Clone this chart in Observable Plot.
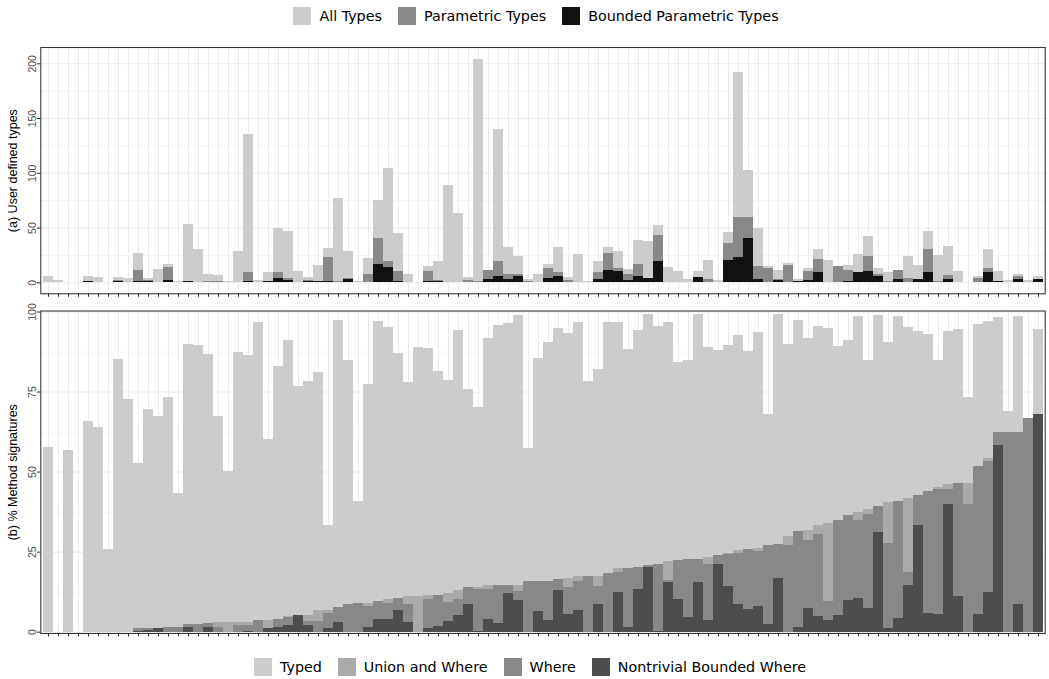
<!DOCTYPE html>
<html><head><meta charset="utf-8">
<script src="https://cdn.jsdelivr.net/npm/d3@7"></script>
<script src="https://cdn.jsdelivr.net/npm/@observablehq/plot@0.6"></script>
<style>
body{margin:0;background:#fff;}
#wrap{position:relative;width:1049px;height:679px;overflow:hidden;background:#fff;}
.legend{position:absolute;display:flex;justify-content:center;align-items:center;font-family:"DejaVu Sans",sans-serif;font-size:14.3px;color:#000;height:32px;}
.item{display:flex;align-items:center;margin:0 8px;}
.key{width:18px;height:18px;margin-right:8px;}
#pa{position:absolute;left:0;top:40px;}
#pb{position:absolute;left:0;top:300px;}
</style></head>
<body><div id="wrap">
<div id="legTop" class="legend" style="left:0;width:1072px;top:0;"></div>
<div id="pa"></div><div id="pb"></div>
<div id="legBot" class="legend" style="left:0;width:1060px;top:651px;"></div>
</div>
<script>
// ---- categories (100 packages, unlabeled on the x axis) ----
const packages = d3.range(1, 101);

// ---- panel (a): user defined types ----
const allTypes   = [6,2,0,0,6,5,0,5,4,27, 4,12,17,1,53,30,8,7,1,29, 135,2,9,50,47,10,5,16,31,77, 29,1,22,75,104,45,8,0,15,19, 89,63,5,204,11,140,32,24,3,8, 17,32,5,26,1,19,32,29,12,39, 38,52,14,10,3,10,20,2,46,192, 103,50,15,11,18,3,13,30,20,15, 16,26,42,13,9,11,24,16,47,25, 33,10,0,6,30,10,2,8,2,6];
const parametric = [0,0,0,0,1,0,0,2,0,11, 2,0,14,0,1,0,1,1,0,0, 9,0,1,9,4,0,2,1,23,1, 4,0,8,40,19,10,0,0,10,2, 0,0,2,1,11,19,8,8,1,0, 13,9,2,0,0,9,27,13,8,17, 4,43,0,0,0,5,3,0,36,60, 60,15,13,3,16,1,10,21,0,15, 11,9,24,8,1,11,4,3,30,1, 7,0,0,4,13,1,0,6,0,3];
const bounded    = [0,0,0,0,1,0,0,1,0,1, 1,0,2,0,1,0,0,0,0,0, 1,0,1,4,2,0,1,1,1,0, 3,0,0,17,14,1,0,0,1,1, 0,0,0,0,3,6,3,6,0,0, 4,6,0,0,0,3,11,10,2,6, 4,19,0,0,0,5,0,0,20,23, 40,3,0,2,0,1,2,9,0,0, 1,9,10,6,0,3,0,3,9,0, 3,0,0,0,9,1,0,3,0,3];
const ticksA = [0, 50, 100, 150, 200];
const minorA = [25, 75, 125, 175];

// ---- panel (b): % method signatures ----
const typed      = [57.7,0,56.7,0,65.8,63.9,25.8,85.2,72.7,52.7, 69.5,67.4,73.3,43.3,89.8,89.5,86.7,67.4,50.2,87.3, 86.4,96.7,60.2,83.0,91.1,76.7,78.3,81.1,33.3,97.3, 84.9,40.8,77.4,97.0,95.2,87.0,78.0,88.9,88.6,81.4, 78.6,94.2,75.8,70.2,91.7,95.8,96.4,98.9,57.4,85.5, 90.5,94.8,93.3,96.7,78.3,82.0,96.7,96.7,88.3,94.2, 99.2,95.5,96.7,84.2,84.9,99.2,88.9,88.0,89.5,92.7, 87.7,93.6,68.0,99.2,89.8,97.3,91.7,95.5,94.8,89.2, 91.1,98.6,84.9,98.9,90.5,98.6,95.2,93.9,93.0,84.9, 93.9,94.5,73.3,96.1,97.0,98.3,68.9,98.6,66.7,94.5];
const unionWhere = [0,0,0,0,0,0,0,0,0,1.0, 1.0,1.2,1.5,1.5,2.5,2.5,2.8,3.0,3.0,3.0, 3.0,3.5,3.8,4.0,5.0,5.2,5.2,6.8,6.8,7.8, 8.7,9.0,9.1,9.6,10.2,10.5,11.1,11.1,11.5,11.6, 12.1,13.0,14.0,14.0,14.6,14.6,14.6,14.6,15.8,15.8, 15.8,16.5,16.9,17.4,17.4,17.4,18.3,19.9,19.9,20.2, 20.8,21.1,22.1,22.4,22.7,22.7,23.3,23.9,24.6,25.5, 25.8,26.1,27.1,27.4,29.9,31.4,31.8,33.3,33.9,34.9, 36.4,37.4,38.3,39.3,40.5,40.8,41.7,42.7,43.9,45.2, 46.1,46.4,46.4,51.7,54.2,62.4,62.4,62.4,66.7,68.0];
const whereOnly  = [0,0,0,0,0,0,0,0,0,1.0, 1.0,1.2,1.5,1.5,2.5,2.5,2.8,1.5,0,2.0, 2.0,3.5,1.0,4.0,4.5,5.2,3.4,3.4,5.9,7.8, 8.7,9.0,8.0,9.6,9.0,10.5,8.6,0,10.2,11.6, 9.3,10.2,14.0,13.4,13.4,14.6,14.6,12.7,15.8,15.8, 15.8,16.5,14.0,15.8,17.4,14.3,18.3,18.6,19.9,20.2, 20.8,21.1,16.0,22.4,22.7,22.7,21.1,23.9,24.3,24.6, 25.8,25.2,27.1,27.4,27.1,31.4,28.6,30.5,9.6,34.9, 36.4,34.9,36.8,39.3,27.7,40.8,18.6,42.7,43.9,44.6, 44.6,46.4,39.9,51.7,53.3,62.4,62.4,62.4,66.7,68.0];
const nontrivial = [0,0,0,0,0,0,0,0,0,0.3, 0.5,1.0,0,0,1.5,0,1.5,0,0,0, 0.3,0,1.0,1.5,2.2,5.2,2.1,0,1.2,3.1, 0,0,1.6,4.0,4.0,6.8,3.0,0,1.1,1.8, 3.3,5.2,8.6,0.2,4.0,2.7,12.1,9.9,0,6.5, 3.6,13.0,5.5,6.8,0,8.6,0,12.4,1.6,13.3, 20.2,0.2,15.5,10.2,4.6,15.5,3.6,21.1,14.3,8.6, 7.1,8.0,2.4,16.8,0,1.5,7.4,4.9,3.6,5.2, 9.9,10.5,7.4,31.1,1.1,4.3,14.6,33.3,5.8,5.5, 39.9,11.1,0,5.5,12.4,58.3,0,8.6,0,68.0];
const ticksB = [0, 25, 50, 75, 100];
const minorB = [12.5, 37.5, 62.5, 87.5];

const seriesA = ["All Types", "Parametric Types", "Bounded Parametric Types"];
const colorsA = ["#cccccc", "#888888", "#111111"];
const seriesB = ["Typed", "Union and Where", "Where", "Nontrivial Bounded Where"];
const colorsB = ["#cccccc", "#aaaaaa", "#888888", "#4d4d4d"];

const rowsA = packages.map((p, i) => ({pkg: p, v: [allTypes[i], parametric[i], bounded[i]]}));
const rowsB = packages.map((p, i) => ({pkg: p, v: [typed[i], unionWhere[i], whereOnly[i], nontrivial[i]]}));

const axisFont = "Liberation Sans, Arial, sans-serif";

function panel(rows, colors, ticks, minor, domain, title, height, mt, mb) {
  const marks = [
    Plot.gridY(minor, {y: d => d, stroke: "#ebebeb", strokeOpacity: 1, strokeWidth: 0.55}),
    Plot.gridY(ticks, {y: d => d, stroke: "#ebebeb", strokeOpacity: 1, strokeWidth: 1.07}),
    Plot.gridX(packages, {x: d => d, stroke: "#ebebeb", strokeOpacity: 1, strokeWidth: 1.07})
  ];
  colors.forEach((c, k) => {
    marks.push(Plot.barY(rows, {x: "pkg", y: d => d.v[k], fill: c, shapeRendering: "crispEdges"}));
  });
  marks.push(
    Plot.frame({stroke: "#333333", strokeWidth: 1.07}),
    Plot.axisX({tickSize: 3.5, tickFormat: () => "", stroke: "#333333", strokeWidth: 1.07, label: null}),
    Plot.axisY({ticks, tickSize: 3.5, tickFormat: () => "", stroke: "#333333", strokeWidth: 1.07, label: null}),
    Plot.text(ticks, {y: d => d, text: d => String(d), frameAnchor: "left", dx: -8.5, rotate: -90,
      textAnchor: "middle", lineAnchor: "middle", fill: "#4d4d4d", fontSize: 10.5, fontFamily: axisFont}),
    Plot.text([title], {text: d => d, frameAnchor: "left", dx: -28, rotate: -90,
      textAnchor: "middle", lineAnchor: "middle", fill: "#000", fontSize: 12.5, fontFamily: axisFont})
  );
  return Plot.plot({
    width: 1049, height,
    marginLeft: 40.3, marginRight: 4.3, marginTop: mt, marginBottom: mb,
    x: {type: "band", domain: packages, paddingInner: 0, paddingOuter: 0.1},
    y: {domain, axis: null},
    style: {background: "transparent", overflow: "visible"},
    marks
  });
}

document.getElementById("pa").appendChild(
  panel(rowsA, colorsA, ticksA, minorA, [-10.05, 214.9], "(a) User defined types", 262, 7, 8.7));
document.getElementById("pb").appendChild(
  panel(rowsB, colorsB, ticksB, minorB, [-0.41, 100.31], "(b) % Method signatures", 345, 10.5, 12));

function legend(el, names, colors) {
  names.forEach((n, k) => {
    const it = document.createElement("div"); it.className = "item";
    const key = document.createElement("div"); key.className = "key"; key.style.background = colors[k];
    const t = document.createElement("span"); t.textContent = n;
    it.appendChild(key); it.appendChild(t); el.appendChild(it);
  });
}
legend(document.getElementById("legTop"), seriesA, colorsA);
legend(document.getElementById("legBot"), seriesB, colorsB);
</script>
</body></html>
